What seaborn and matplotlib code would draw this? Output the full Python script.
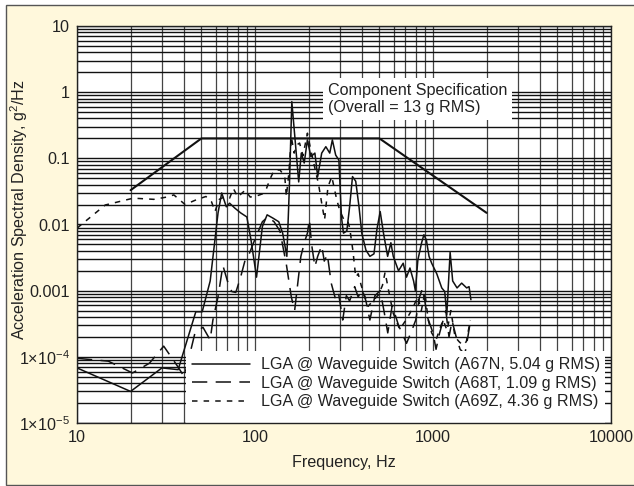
import numpy as np
import pandas as pd
import matplotlib
matplotlib.use("Agg")
import matplotlib.pyplot as plt
import seaborn as sns
from matplotlib.patches import Rectangle
from matplotlib.ticker import FixedLocator, LogLocator, NullFormatter

# ---------------- data ----------------
spec_freq = [20, 50, 500, 2000]
spec_psd = [0.033, 0.2, 0.2, 0.015]

a67n_freq = [10, 20, 30, 37, 46.5, 50.5, 56, 62, 65, 69, 72, 77, 83, 90, 95, 102, 110, 117, 126, 136,
             143, 151, 156, 161, 168, 176, 182, 189, 197, 206, 217, 225, 237, 250, 263, 272, 284, 296, 306, 314,
             328, 340, 353, 368, 384, 398, 420, 442, 466, 484, 505, 527, 556, 580, 598, 640, 680, 710, 742, 778,
             796, 822, 863, 889, 918, 950, 983, 1050, 1120, 1164, 1195, 1248, 1290, 1365, 1449, 1546, 1594, 1633]
a67n_psd = [6.8e-5, 3.0e-5, 6.8e-5, 6.4e-5, 4.8e-4, 4.8e-4, 1.4e-3, 0.015, 0.030, 0.0185,
            0.021, 0.0177, 0.015, 0.013, 0.0058, 0.0016, 0.0093, 0.014, 0.0125, 0.011,
            0.0074, 0.0033, 0.037, 0.72, 0.19, 0.044, 0.12, 0.085, 0.19, 0.106,
            0.12, 0.053, 0.12, 0.15, 0.12, 0.19, 0.112, 0.094, 0.013, 0.0074,
            0.008, 0.0185, 0.053, 0.045, 0.0185, 0.0074, 0.0041, 0.0033, 0.0036, 0.0084,
            0.0157, 0.0074, 0.0033, 0.0053, 0.0033, 0.002, 0.0026, 0.0016, 0.0022, 0.0014,
            0.001, 0.0029, 0.0053, 0.007, 0.0058, 0.0033, 0.0026, 0.0018, 0.0011, 0.00097,
            0.00043, 0.0038, 0.0014, 0.0011, 0.0013, 0.0011, 0.00115, 0.00073]

a68t_freq = [10, 15, 20.5, 25.5, 30.7, 37, 40, 44, 46, 51, 56, 58, 62, 66, 70, 74, 78, 83, 88, 92,
             100, 110, 118, 128, 138, 150, 160, 167, 175, 181, 190, 197, 202, 208, 217, 225, 237, 245, 255, 268,
             284, 295, 311, 326, 340, 363, 380, 398, 420, 442, 472, 505, 530, 557, 590, 640, 710, 760, 800, 840,
             875, 930, 1000, 1040, 1090, 1180, 1230, 1280, 1350, 1420, 1510, 1570, 1633]
a68t_psd = [9.5e-5, 8.6e-5, 5.7e-5, 8.0e-5, 1.45e-4, 7e-5, 5e-5, 1.4e-4, 2.3e-4, 2.8e-4,
            1.8e-4, 3.6e-4, 8.1e-4, 2.4e-3, 1.4e-3, 9.7e-4, 9.4e-4, 1.6e-3, 2.9e-3, 3.4e-3,
            6e-3, 0.011, 0.013, 0.011, 0.008, 0.0025, 8e-4, 5e-4, 1.5e-3, 3.3e-3,
            5.5e-3, 0.0074, 0.0118, 0.005, 0.0023, 0.0033, 0.0048, 0.0028, 0.0035, 0.0013,
            7.3e-4, 9e-4, 3.6e-4, 8.4e-4, 7e-4, 1.15e-3, 8e-4, 1.05e-3, 7e-4, 3.6e-4,
            8.4e-4, 1e-3, 5e-4, 2.3e-4, 6e-4, 3e-4, 1.6e-4, 2.5e-4, 3.6e-4, 8e-4,
            1.1e-3, 4e-4, 2.3e-4, 1.3e-4, 2.3e-4, 5e-4, 2e-4, 3.5e-4, 2e-4, 1.3e-4,
            1.1e-4, 2e-4, 3.9e-4]

a69z_freq = [10, 14.4, 20.7, 27, 32, 35, 40.5, 46.7, 53, 57, 59.6, 63, 68, 72, 75.6, 80, 88, 94, 102, 110,
             116, 122, 128, 138, 147, 150, 155, 160, 166, 172, 178, 186, 197, 204, 212, 220, 227, 237, 246, 257,
             270, 279, 288, 300, 315, 330, 340, 355, 368, 380, 395, 415, 432, 455, 493, 520, 538, 572, 597, 650,
             700, 740, 778, 820, 860, 900, 940, 983, 1040, 1100, 1140, 1200, 1260, 1330, 1400, 1470, 1540, 1620]
a69z_psd = [0.0088, 0.0197, 0.025, 0.024, 0.026, 0.028, 0.020, 0.0236, 0.0265, 0.022,
            0.0157, 0.024, 0.0265, 0.025, 0.035, 0.026, 0.033, 0.026, 0.027, 0.029,
            0.035, 0.05, 0.0655, 0.067, 0.053, 0.0265, 0.06, 0.21, 0.12, 0.16,
            0.17, 0.11, 0.24, 0.15, 0.094, 0.06, 0.042, 0.021, 0.0118, 0.037,
            0.053, 0.035, 0.0236, 0.016, 0.012, 0.0118, 0.009, 0.004, 0.0016, 0.0018,
            0.0012, 8.1e-4, 5.8e-4, 6.8e-4, 8.6e-4, 1.2e-3, 1.9e-3, 8.1e-4, 4.6e-4, 2.6e-4,
            3.5e-4, 4.5e-4, 5.8e-4, 8.1e-4, 5e-4, 9.4e-4, 3.6e-4, 2.3e-4, 1.8e-4, 2.8e-4,
            3.6e-4, 2.5e-4, 5e-4, 2e-4, 1.7e-4, 1.5e-4, 1.7e-4, 3.6e-4]

series_labels = ["LGA @ Waveguide Switch (A67N, 5.04 g RMS)",
                 "LGA @ Waveguide Switch (A68T, 1.09 g RMS)",
                 "LGA @ Waveguide Switch (A69Z, 4.36 g RMS)"]
spec_text = "Component Specification\n(Overall = 13 g RMS)"

x_ticks = [10, 100, 1000, 10000]
x_ticklabels = ["10", "100", "1000", "10000"]
y_ticks = [1e-5, 1e-4, 1e-3, 1e-2, 1e-1, 1, 10]
y_ticklabels = [r"$1{\times}10^{-5}$", r"$1{\times}10^{-4}$", "0.001", "0.01", "0.1", "1", "10"]

# ---------------- style ----------------
sns.set_style("white")
plt.rcParams["font.family"] = ["Liberation Sans", "DejaVu Sans"]
plt.rcParams["mathtext.fontset"] = "custom"
plt.rcParams["mathtext.rm"] = "Liberation Sans"
plt.rcParams["mathtext.it"] = "Liberation Sans:italic"
plt.rcParams["mathtext.bf"] = "Liberation Sans:bold"
plt.rcParams["mathtext.default"] = "regular"

FS = 11.6
W, H = 634, 486
fig = plt.figure(figsize=(W / 100, H / 100), dpi=100, facecolor="white")
fig.patches.append(Rectangle((6 / W, 1 - 485 / H), 1.0, 480 / H, transform=fig.transFigure,
                             facecolor="#FFF8DC", edgecolor="#555555", lw=1.0, zorder=-10))

ax = fig.add_axes([77 / W, 1 - 423 / H, 534 / W, 397 / H])
ax.set_facecolor("white")
ax.set_xscale("log")
ax.set_yscale("log")
ax.set_xlim(10, 10000)
ax.set_ylim(1e-5, 10)

ink = "#111111"
lw = 1.1
sns.lineplot(x=spec_freq, y=spec_psd, ax=ax, color=ink, lw=1.5, estimator=None, sort=False, zorder=3)
sns.lineplot(x=a67n_freq, y=a67n_psd, ax=ax, color=ink, lw=lw, estimator=None, sort=False,
             label=series_labels[0], zorder=3)
sns.lineplot(x=a68t_freq, y=a68t_psd, ax=ax, color=ink, lw=lw, estimator=None, sort=False,
             linestyle=(0, (10, 5.5)), label=series_labels[1], zorder=3)
sns.lineplot(x=a69z_freq, y=a69z_psd, ax=ax, color=ink, lw=lw, estimator=None, sort=False,
             linestyle=(0, (3.6, 4)), label=series_labels[2], zorder=3)

# grid
ax.xaxis.set_major_locator(FixedLocator(x_ticks))
ax.xaxis.set_minor_locator(LogLocator(base=10, subs=np.arange(2, 10), numticks=20))
ax.xaxis.set_minor_formatter(NullFormatter())
ax.yaxis.set_major_locator(FixedLocator(y_ticks))
ax.yaxis.set_minor_locator(LogLocator(base=10, subs=np.arange(2, 10), numticks=20))
ax.yaxis.set_minor_formatter(NullFormatter())
ax.set_xticklabels(x_ticklabels)
ax.set_yticklabels(y_ticklabels)
ax.set_axisbelow(True)
ax.grid(which="both", axis="x", color="#444444", lw=0.9)
ax.grid(which="both", axis="y", color="#111111", lw=1.0)
ax.tick_params(which="both", length=0, pad=5, labelsize=FS, labelcolor="#222222")
for s in ax.spines.values():
    s.set_color("#222222")
    s.set_linewidth(1.0)
    s.set_zorder(12)

ax.set_xlabel("Frequency, Hz", fontsize=FS, color="#222222")
ax.set_ylabel("Acceleration Spectral Density, g$^2$/Hz", fontsize=FS, color="#222222")
ax.xaxis.set_label_coords(0.5, -0.08)
ax.yaxis.set_label_coords(-0.088, 0.537)

ax.text(0.47, 0.816, spec_text, transform=ax.transAxes, ha="left", va="center", fontsize=FS,
        color="#222222", linespacing=1.12, zorder=6,
        bbox=dict(facecolor="white", edgecolor="none", boxstyle="square,pad=0.3"))

# white panel behind the legend, reaching down to the x axis
ax.add_patch(Rectangle((0.204, 0.0), 0.785, 0.181, transform=ax.transAxes,
                       facecolor="white", edgecolor="none", zorder=9))

leg = ax.legend(loc="lower right", bbox_to_anchor=(0.989, 0.022), borderaxespad=0, frameon=True,
                facecolor="white", edgecolor="none", framealpha=1, fancybox=False, fontsize=FS,
                handlelength=3.6, handletextpad=0.7, labelspacing=0.22, borderpad=0.3)
for t in leg.get_texts():
    t.set_color("#222222")
leg.set_zorder(10)

fig.savefig("out.png", dpi=100, facecolor=fig.get_facecolor())
